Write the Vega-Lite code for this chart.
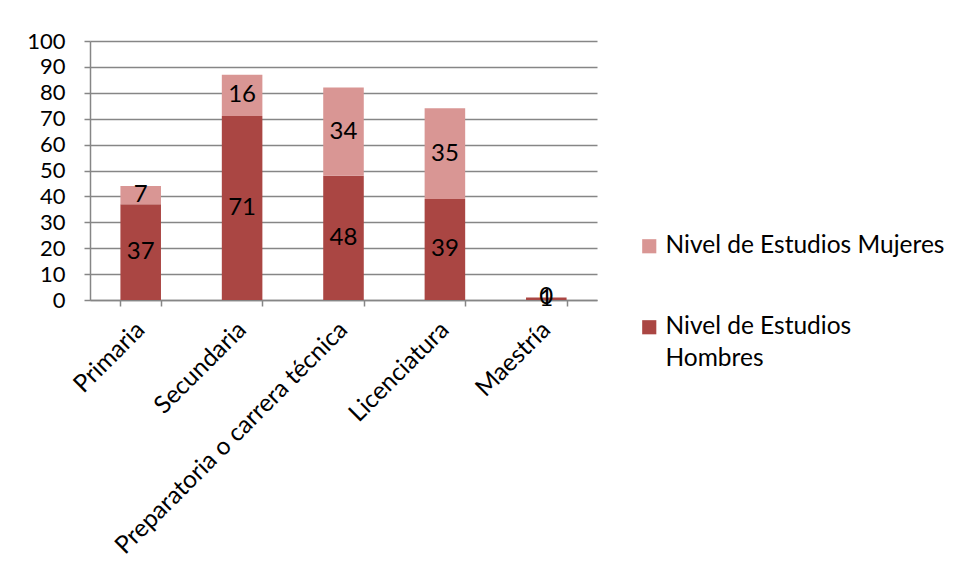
{
  "$schema": "https://vega.github.io/schema/vega-lite/v6.json",
  "width": 507,
  "height": 259,
  "autosize": {"type": "none"},
  "padding": {"left": 90, "top": 41, "right": 359, "bottom": 281},
  "background": "white",
  "config": {
    "font": "Lato",
    "view": {"stroke": null},
    "axis": {"labelFont": "Lato", "labelColor": "black", "domainColor": "#868686", "tickColor": "#868686", "domainWidth": 1.5, "tickWidth": 1.5, "tickSize": 6, "title": null, "labelOverlap": false, "labelLimit": 0},
    "legend": {"labelFont": "Lato", "labelLimit": 0}
  },
  "data": {"values": [
    {"categoria": "Primaria", "serie": "Nivel de Estudios Hombres", "valor": 37, "orden": 1},
    {"categoria": "Primaria", "serie": "Nivel de Estudios Mujeres", "valor": 7, "orden": 2},
    {"categoria": "Secundaria", "serie": "Nivel de Estudios Hombres", "valor": 71, "orden": 1},
    {"categoria": "Secundaria", "serie": "Nivel de Estudios Mujeres", "valor": 16, "orden": 2},
    {"categoria": "Preparatoria o carrera técnica", "serie": "Nivel de Estudios Hombres", "valor": 48, "orden": 1},
    {"categoria": "Preparatoria o carrera técnica", "serie": "Nivel de Estudios Mujeres", "valor": 34, "orden": 2},
    {"categoria": "Licenciatura", "serie": "Nivel de Estudios Hombres", "valor": 39, "orden": 1},
    {"categoria": "Licenciatura", "serie": "Nivel de Estudios Mujeres", "valor": 35, "orden": 2},
    {"categoria": "Maestría", "serie": "Nivel de Estudios Hombres", "valor": 1, "orden": 1},
    {"categoria": "Maestría", "serie": "Nivel de Estudios Mujeres", "valor": 0, "orden": 2}
  ]},
  "transform": [
    {"stack": "valor", "groupby": ["categoria"], "sort": [{"field": "orden", "order": "ascending"}], "as": ["v0", "v1"]},
    {"calculate": "(datum.v0 + datum.v1) / 2", "as": "vmid"}
  ],
  "encoding": {
    "x": {
      "field": "categoria", "type": "nominal",
      "sort": ["Primaria", "Secundaria", "Preparatoria o carrera técnica", "Licenciatura", "Maestría"],
      "scale": {"paddingInner": 0.6, "paddingOuter": 0.3},
      "axis": {"labelAngle": -45, "labelFontSize": 24.5, "tickBand": "extent", "labelPadding": 20, "labelAlign": "right", "labelBaseline": "middle"}
    }
  },
  "layer": [
    {
      "mark": {"type": "bar"},
      "encoding": {
        "y": {"field": "v0", "type": "quantitative",
          "scale": {"domain": [0, 100]},
          "axis": {"values": [0,10,20,30,40,50,60,70,80,90,100], "grid": true, "gridColor": "#868686", "gridWidth": 1.5, "labelFontSize": 22, "labelPadding": 19, "domain": true}},
        "y2": {"field": "v1"},
        "color": {"field": "serie", "type": "nominal",
          "scale": {"domain": ["Nivel de Estudios Mujeres", "Nivel de Estudios Hombres"], "range": ["#D99694", "#AA4643"]},
          "legend": {"orient": "none", "legendX": 547, "legendY": 193, "title": null, "symbolType": "square", "symbolSize": 200, "symbolStrokeWidth": 0, "labelFontSize": 24.5, "rowPadding": 56, "labelOffset": 4,
            "labelExpr": "datum.label == 'Nivel de Estudios Hombres' ? ['Nivel de Estudios', 'Hombres'] : datum.label",
            "encode": {"labels": {"update": {"lineHeight": {"value": 32}}}}}
        }
      }
    },
    {
      "mark": {"type": "text", "fontSize": 24, "color": "black", "baseline": "middle"},
      "encoding": {
        "y": {"field": "vmid", "type": "quantitative",
          "axis": {"values": [0,10,20,30,40,50,60,70,80,90,100], "grid": true, "gridColor": "#868686", "gridWidth": 1.5, "labelFontSize": 22, "labelPadding": 19, "domain": true}},
        "text": {"field": "valor", "type": "quantitative"}
      }
    }
  ]
}
